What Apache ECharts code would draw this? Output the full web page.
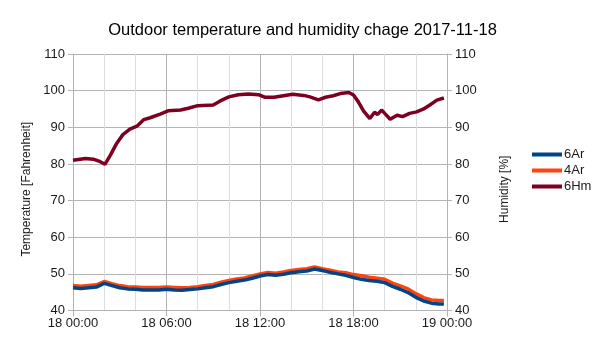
<!DOCTYPE html>
<html>
<head>
<meta charset="utf-8">
<script src="https://cdn.jsdelivr.net/npm/echarts@6/dist/echarts.min.js"></script>
<style>html,body{margin:0;padding:0;background:#fff}#c{width:605px;height:340px}</style>
</head>
<body>
<div id="c"></div>
<script>
const titleText = "Outdoor temperature and humidity chage 2017-11-18";
const xTickLabels = {0: "18 00:00", 6: "18 06:00", 12: "18 12:00", 18: "18 18:00", 24: "19 00:00"};
const seriesNames = ["6Ar", "4Ar", "6Hm"];

const tempHours = [0,0.5,1,1.5,2,2.5,3,3.5,4,4.5,5,5.5,6,6.5,7,7.5,8,8.5,9,9.5,10,10.5,11,11.5,12,12.5,13,13.5,14,14.5,15,15.5,16,16.5,17,17.5,18,18.5,19,19.5,20,20.5,21,21.5,22,22.5,23,23.5,23.8];
const temp6Ar = [46.2,46.0,46.2,46.4,47.4,46.8,46.2,45.9,45.8,45.6,45.6,45.6,45.8,45.6,45.5,45.7,45.9,46.2,46.5,47.1,47.6,48.0,48.3,48.8,49.4,49.8,49.6,49.9,50.3,50.6,50.8,51.3,50.9,50.4,50.0,49.6,49.0,48.5,48.2,48.0,47.6,46.6,45.8,44.9,43.6,42.6,42.0,41.8,41.8];
const temp4Ar = [46.8,46.6,46.8,47.0,47.9,47.3,46.8,46.5,46.4,46.3,46.3,46.3,46.4,46.3,46.2,46.3,46.5,46.8,47.1,47.7,48.2,48.6,48.9,49.4,50.0,50.4,50.2,50.5,50.9,51.2,51.4,51.9,51.4,51.0,50.5,50.3,49.8,49.5,49.1,48.8,48.5,47.5,46.7,45.9,44.6,43.5,42.9,42.7,42.7];

const humHours = [0,0.8,1.3,1.75,2.05,2.4,2.8,3.2,3.65,4.1,4.55,4.95,5.6,6.1,6.9,7.4,8.0,9.0,9.45,10.0,10.6,11.25,11.9,12.3,12.9,13.5,14.1,14.8,15.2,15.75,16.2,16.7,17.15,17.7,18.0,18.3,18.65,19.05,19.35,19.55,19.8,20.05,20.35,20.8,21.15,21.6,22.05,22.5,22.9,23.35,23.8];
const hum6Hm = [81.0,81.5,81.3,80.6,79.9,82.4,85.6,88.0,89.5,90.3,92.1,92.6,93.6,94.5,94.7,95.2,95.9,96.1,97.2,98.3,98.9,99.1,98.9,98.2,98.2,98.6,99.0,98.7,98.3,97.5,98.2,98.6,99.2,99.5,98.8,97.0,94.4,92.4,94.1,93.5,94.7,93.6,92.2,93.3,92.9,93.8,94.2,95.0,96.1,97.4,98.0];

const pair = (xs, ys) => xs.map((x, i) => [x, ys[i]]);
const FONT = "Liberation Sans";
const TXT = "#1a1a1a";

const chart = echarts.init(document.getElementById('c'), null, {renderer: 'canvas'});
chart.setOption({
  animation: false,
  backgroundColor: '#ffffff',
  textStyle: {fontFamily: FONT},
  title: {
    text: titleText, left: 'center', top: 17,
    textStyle: {fontFamily: FONT, fontSize: 16.5, fontWeight: 'normal', color: '#000'}
  },
  legend: {
    orient: 'vertical', left: 527, top: 143,
    itemWidth: 30, itemHeight: 4, itemGap: 3,
    icon: 'rect',
    textStyle: {fontFamily: FONT, fontSize: 13, color: TXT, padding: [0,0,0,-3]},
    data: seriesNames
  },
  grid: {left: 73, right: 158, top: 54, bottom: 29.5, containLabel: false},
  xAxis: {
    type: 'value', min: 0, max: 24, interval: 6,
    axisLine: {show: true, lineStyle: {color: '#b3b3b3', width: 1}},
    axisTick: {show: true, length: 6, lineStyle: {color: '#b3b3b3'}},
    minorTick: {show: false, splitNumber: 3},
    splitLine: {show: true, lineStyle: {color: '#b3b3b3', width: 1}},
    minorSplitLine: {show: true, lineStyle: {color: '#dddddd', width: 1}},
    axisLabel: {
      fontFamily: FONT, fontSize: 13, color: TXT, margin: 6,
      formatter: v => xTickLabels[v] || ''
    }
  },
  yAxis: [
    {
      type: 'value', min: 40, max: 110, interval: 10,
      name: 'Temperature [Fahrenheit]', nameLocation: 'middle', nameGap: 39, nameRotate: 90,
      nameTextStyle: {fontFamily: FONT, fontSize: 12, color: TXT, padding: [0,14,0,0]},
      axisLine: {show: true, lineStyle: {color: '#b3b3b3'}},
      axisTick: {show: true, length: 5, lineStyle: {color: '#b3b3b3'}},
      splitLine: {show: true, lineStyle: {color: '#b3b3b3', width: 1}},
      axisLabel: {fontFamily: FONT, fontSize: 13, color: TXT, margin: 8}
    },
    {
      type: 'value', min: 40, max: 110, interval: 10, position: 'right',
      name: 'Humidity [%]', nameLocation: 'middle', nameGap: 52, nameRotate: 90,
      nameTextStyle: {fontFamily: FONT, fontSize: 12, color: TXT, padding: [0,14,0,0]},
      axisLine: {show: true, lineStyle: {color: '#b3b3b3'}},
      axisTick: {show: true, length: 5, lineStyle: {color: '#b3b3b3'}},
      splitLine: {show: false},
      axisLabel: {fontFamily: FONT, fontSize: 13, color: TXT, margin: 8}
    }
  ],
  series: [
    {name: seriesNames[0], type: 'line', yAxisIndex: 0, data: pair(tempHours, temp6Ar),
     showSymbol: false, symbol: 'none', color: '#004586', lineStyle: {width: 3.5, color: '#004586'}, z: 3},
    {name: seriesNames[1], type: 'line', yAxisIndex: 0, data: pair(tempHours, temp4Ar),
     showSymbol: false, symbol: 'none', color: '#ff420e', lineStyle: {width: 3.5, color: '#ff420e'}, z: 2},
    {name: seriesNames[2], type: 'line', yAxisIndex: 1, data: pair(humHours, hum6Hm),
     showSymbol: false, symbol: 'none', color: '#7e0021', lineStyle: {width: 3.5, color: '#7e0021'}, z: 4}
  ]
});
</script>
</body>
</html>
